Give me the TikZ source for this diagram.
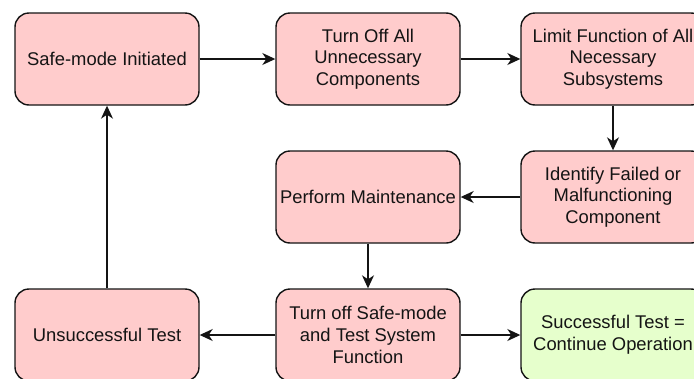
\documentclass[tikz,border=0pt]{standalone}
\usepackage{fontspec}
\setmainfont{Liberation Sans}
\usetikzlibrary{arrows.meta}
\definecolor{boxpink}{HTML}{FFCCCC}
\definecolor{boxgreen}{HTML}{E6FFCC}
\definecolor{inkline}{HTML}{141414}
\begin{document}
\begin{tikzpicture}[x=1pt,y=-1pt,
  stepbox/.style={draw=inkline, line width=1.4pt, rounded corners=14pt,
    fill=boxpink, minimum width=184pt, minimum height=92pt,
    align=center, inner sep=0pt, text=inkline,
    font=\fontsize{18.4}{21.6}\selectfont},
  okbox/.style={stepbox, fill=boxgreen},
  flow/.style={-{Stealth[length=13pt,width=12pt,inset=4pt]}, line width=1.4pt, draw=inkline}]
\useasboundingbox (0,0) rectangle (694,378);
\clip (0,0) rectangle (694,378);
\fill[white] (0,0) rectangle (694,378);

% top row
\node[stepbox] (safe)  at (107,59)  {Safe-mode Initiated};
\node[stepbox] (off)   at (368,59)  {Turn Off All\\Unnecessary\\Components};
\node[stepbox] (limit) at (613,59)  {Limit Function of All\\Necessary\\Subsystems};
% middle row
\node[stepbox] (maint) at (368,197) {Perform Maintenance};
\node[stepbox] (ident) at (613,197) {Identify Failed or\\Malfunctioning\\Component};
% bottom row
\node[stepbox] (fail)  at (107,335) {Unsuccessful Test};
\node[stepbox] (test)  at (368,335) {Turn off Safe-mode\\and Test System\\Function};
\node[okbox]   (pass)  at (613,335) {Successful Test =\\Continue Operation};

% connectors
\draw[flow] (safe) -- (off);
\draw[flow] (off) -- (limit);
\draw[flow] (limit) -- (ident);
\draw[flow] (ident) -- (maint);
\draw[flow] (maint) -- (test);
\draw[flow] (test) -- (fail);
\draw[flow] (test) -- (pass);
\draw[flow] (fail) -- (safe);
\end{tikzpicture}
\end{document}
